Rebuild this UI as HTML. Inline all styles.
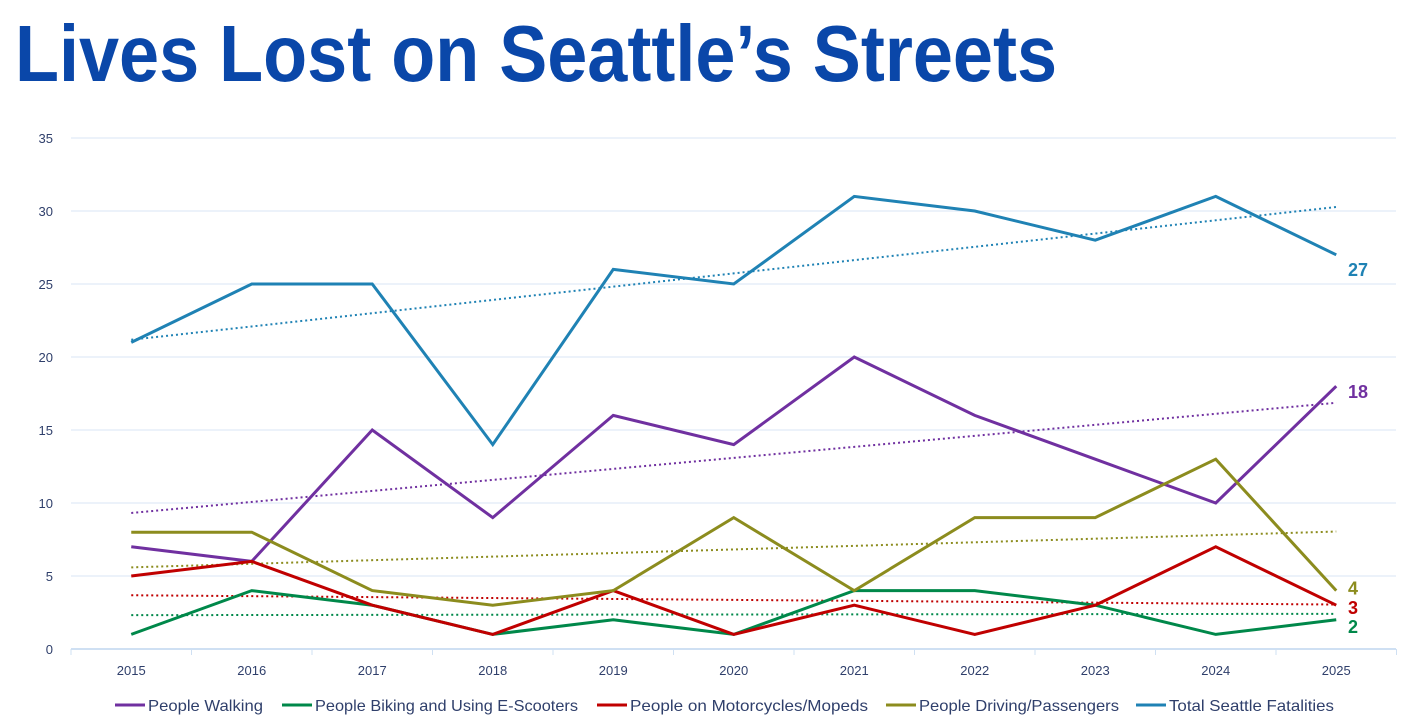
<!DOCTYPE html>
<html><head><meta charset="utf-8"><style>
body{margin:0;background:#fff;}
svg{display:block;font-family:"Liberation Sans",sans-serif;}
</style></head><body>
<svg id="c" width="1410" height="724" viewBox="0 0 1410 724" xmlns="http://www.w3.org/2000/svg">
<text x="15" y="81" font-size="80" font-weight="bold" fill="#0a47a9" textLength="1042" lengthAdjust="spacingAndGlyphs">Lives Lost on Seattle’s Streets</text>
<g id="grid"></g><g id="trends"></g><g id="lines"></g><g id="legend"></g>
</svg>
<script>
const years=["2015","2016","2017","2018","2019","2020","2021","2022","2023","2024","2025"];
const yTicks=[0,5,10,15,20,25,30,35];
const walking=[7,6,15,9,16,14,20,16,13,10,18];
const biking=[1,4,3,1,2,1,4,4,3,1,2];
const moto=[5,6,3,1,4,1,3,1,3,7,3];
const driving=[8,8,4,3,4,9,4,9,9,13,4];
const total=[21,25,25,14,26,25,31,30,28,31,27];
const seriesNames=["People Walking","People Biking and Using E-Scooters","People on Motorcycles/Mopeds","People Driving/Passengers","Total Seattle Fatalities"];
const NS="http://www.w3.org/2000/svg";
const L=71,band=120.5,y0=649,perU=14.6;
const X=i=>L+band*(i+0.5), Y=v=>y0-v*perU;
function mk(tag,parent,attrs){const e=document.createElementNS(NS,tag);for(const k in attrs)e.setAttribute(k,attrs[k]);parent.appendChild(e);return e;}
const grid=document.getElementById('grid');
yTicks.forEach(t=>{
 if(t>0){const g=mk('line',grid,{x1:L,x2:1396,y1:Y(t),y2:Y(t),stroke:'#d9e6f5','stroke-width':1});
 }
 const tx=mk('text',grid,{x:53,y:Y(t)+5,'text-anchor':'end','font-size':13,fill:'#2f3f6b'});tx.textContent=t;
 
});
const ax=mk('line',grid,{x1:L,x2:1396,y1:y0,y2:y0,stroke:'#cfe0f3','stroke-width':2});

for(let i=0;i<=years.length;i++){const tk=mk('line',grid,{x1:L+band*i,x2:L+band*i,y1:y0,y2:y0+6,stroke:'#cfe0f3','stroke-width':1});
 }
years.forEach((yr,i)=>{const t=mk('text',grid,{x:X(i),y:675,'text-anchor':'middle','font-size':13,fill:'#2f3f6b'});t.textContent=yr;
 });
const series=[[walking,'#7030a0','walking'],[biking,'#00884a','biking'],[moto,'#c00000','moto'],[driving,'#8c8c1e','driving'],[total,'#1f82b4','total']];
const trends=document.getElementById('trends'),lines=document.getElementById('lines');
series.forEach(([d,col,nm])=>{
 const n=d.length;let sx=0,sy=0,sxy=0,sxx=0;d.forEach((v,i)=>{sx+=i;sy+=v;sxy+=i*v;sxx+=i*i;});
 const b=(n*sxy-sx*sy)/(n*sxx-sx*sx),a=(sy-b*sx)/n;
 const tl=mk('line',trends,{x1:X(0),y1:Y(a),x2:X(n-1),y2:Y(a+b*(n-1)),stroke:col,'stroke-width':2,'stroke-dasharray':'2 3'});
 
});
series.forEach(([d,col,nm])=>{
 const p=mk('polyline',lines,{points:d.map((v,i)=>X(i)+','+Y(v)).join(' '),fill:'none',stroke:col,'stroke-width':3,'stroke-linejoin':'miter'});
 
});
const endOff={walking:5,biking:6,moto:2,driving:-3,total:14};
series.forEach(([d,col,nm])=>{const v=d[d.length-1];
 const t=mk('text',lines,{x:1348,y:Y(v)+7+endOff[nm],'font-size':18,'font-weight':'bold',fill:col});t.textContent=v;
 });
const legend=document.getElementById('legend');
const lx=[115,282,597,886,1136],lw=[115,263,238,200,165];
series.forEach(([d,col,nm],i)=>{
 const l=mk('line',legend,{x1:lx[i],x2:lx[i]+30,y1:705,y2:705,stroke:col,'stroke-width':3});
 
 const t=mk('text',legend,{x:lx[i]+33,y:711,'font-size':16,fill:'#2f3f6b',textLength:lw[i],lengthAdjust:'spacingAndGlyphs'});t.textContent=seriesNames[i];
 
});
</script>
</body></html>
